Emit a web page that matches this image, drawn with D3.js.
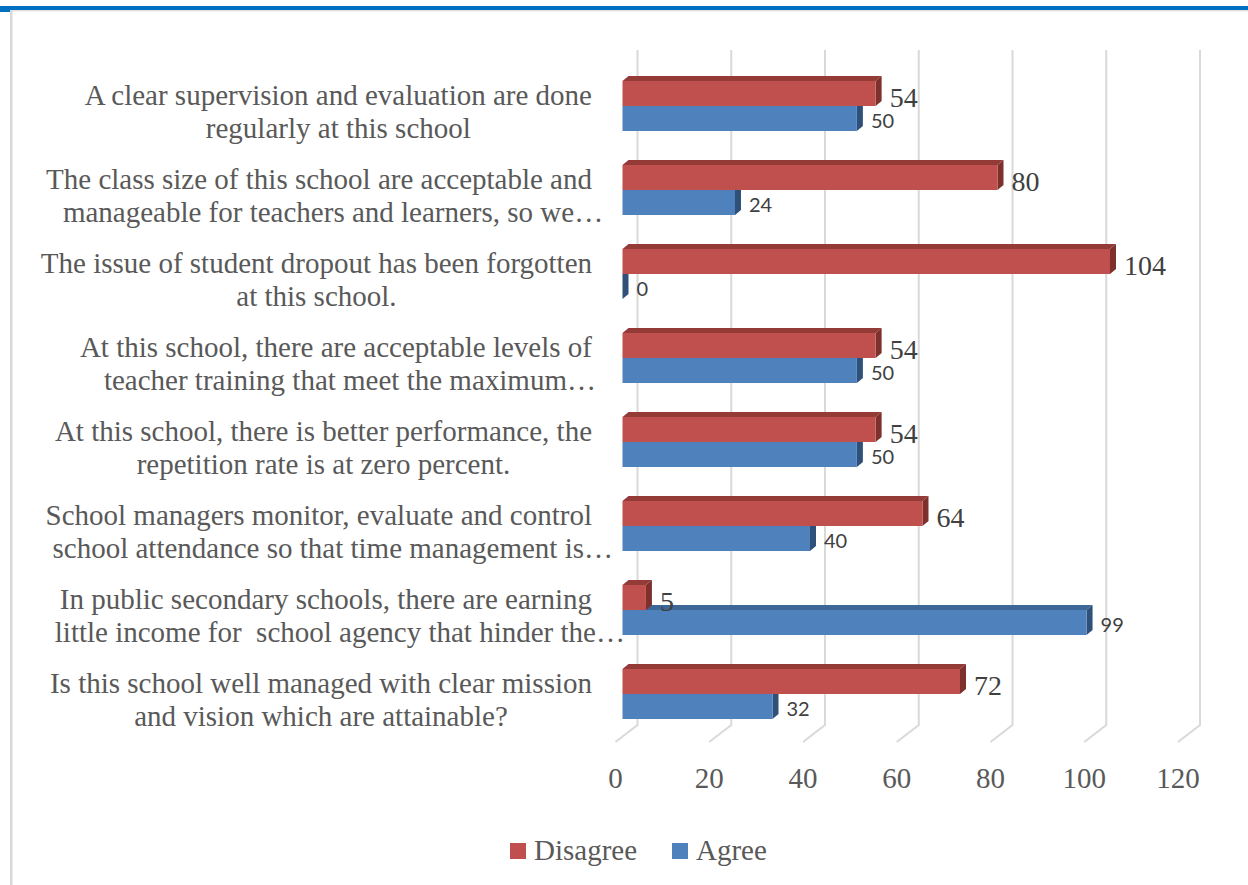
<!DOCTYPE html>
<html>
<head>
<meta charset="utf-8">
<script src="https://cdn.jsdelivr.net/npm/d3@7"></script>
<style>
  html, body { margin: 0; padding: 0; background: #ffffff; }
  svg { display: block; }
  text { white-space: pre; }
</style>
</head>
<body>
<svg id="chart" width="1248" height="885"></svg>
<script>
// ---------- data ----------
const categories = [
  "A clear supervision and evaluation are done\nregularly at this school",
  "The class size of this school are acceptable and\nmanageable for teachers and learners, so we…",
  "The issue of student dropout has been forgotten\nat this school.",
  "At this school, there are acceptable levels of\nteacher training that meet the maximum…",
  "At this school, there is better performance, the\nrepetition rate is at zero percent.",
  "School managers monitor, evaluate and control\nschool attendance so that time management is…",
  "In public secondary schools, there are earning\nlittle income for  school agency that hinder the…",
  "Is this school well managed with clear mission\nand vision which are attainable?"
];
const disagree = [54, 80, 104, 54, 54, 64, 5, 72];
const agree    = [50, 24, 0, 50, 50, 40, 99, 32];
const seriesNames = ["Disagree", "Agree"];
const xTicks = [0, 20, 40, 60, 80, 100, 120];

// ---------- styles ----------
const serif = "'Liberation Serif', 'Times New Roman', serif";
const sans = "Lato, 'Liberation Sans', sans-serif";
const textCol = "#595959";
const cols = {
  Disagree: { front: "#C0504D", top: "#943B38", side: "#7E302D" },
  Agree:    { front: "#4F81BD", top: "#3C6797", side: "#2E5079" }
};

const svg = d3.select("#chart");

// frame decorations
svg.append("rect").attr("x", 0).attr("y", 6).attr("width", 1248).attr("height", 4).attr("fill", "#0070C0");
svg.append("rect").attr("x", 0).attr("y", 6).attr("width", 10).attr("height", 6).attr("fill", "#0070C0");
svg.append("rect").attr("x", 10).attr("y", 10).attr("width", 1238).attr("height", 1.5).attr("fill", "#e3e3e3");
svg.append("rect").attr("x", 10).attr("y", 10).attr("width", 2.5).attr("height", 875).attr("fill", "#d9d9d9");

// ---------- scales ----------
const x = d3.scaleLinear().domain([0, 120]).range([615.5, 1178]);
const y = d3.scaleBand().domain(d3.range(categories.length)).range([64, 736])
  .paddingInner(34 / 84).paddingOuter(17 / 84);

const backDx = 22, backDy = -17;
const barFrontDx = 7;
const depthDx = 6, depthDy = -5;
const wallTop = 50, floorBack = 725;

// back-wall gridlines and floor diagonals
const grid = svg.append("g");
xTicks.forEach(t => {
  const xb = x(t) + backDx;
  grid.append("path")
    .attr("d", `M${xb},${wallTop} L${xb},${floorBack} L${xb - backDx},${floorBack - backDy}`)
    .attr("fill", "none").attr("stroke", "#d9d9d9").attr("stroke-width", 2);
});

// tick labels
svg.append("g").selectAll("text").data(xTicks).join("text")
  .attr("x", d => x(d)).attr("y", 788)
  .attr("text-anchor", "middle")
  .attr("font-family", serif).attr("font-size", 29).attr("fill", textCol)
  .text(d => d);

// ---------- bars ----------
const bh = y.bandwidth() / 2;
function drawBar(g, v, y0, c) {
  const x0 = x(0) + barFrontDx;
  const x1 = x(v) + barFrontDx;
  g.append("path")
    .attr("d", `M${x0},${y0} L${x0 + depthDx},${y0 + depthDy} L${x1 + depthDx},${y0 + depthDy} L${x1},${y0} Z`)
    .attr("fill", c.top);
  g.append("path")
    .attr("d", `M${x1},${y0} L${x1 + depthDx},${y0 + depthDy} L${x1 + depthDx},${y0 + bh + depthDy} L${x1},${y0 + bh} Z`)
    .attr("fill", c.side);
  if (x1 > x0) {
    g.append("rect").attr("x", x0).attr("y", y0).attr("width", x1 - x0).attr("height", bh)
      .attr("fill", c.front);
  }
}

const bars = svg.append("g");
categories.forEach((cat, i) => {
  const y0 = y(i);
  drawBar(bars, agree[i], y0 + bh, cols.Agree);
  drawBar(bars, disagree[i], y0, cols.Disagree);
});

// data labels
const labels = svg.append("g");
categories.forEach((cat, i) => {
  const y0 = y(i);
  labels.append("text")
    .attr("x", x(disagree[i]) + barFrontDx + depthDx + 8)
    .attr("y", y0 + bh + 1)
    .attr("font-family", serif).attr("font-size", 28).attr("fill", "#404040")
    .text(disagree[i]);
  labels.append("text")
    .attr("x", x(agree[i]) + barFrontDx + depthDx + 8)
    .attr("y", y0 + 2 * bh - 3)
    .attr("font-family", sans).attr("font-size", 20).attr("fill", "#404040")
    .text(agree[i]);
});

// category labels
const catG = svg.append("g");
const rightEdge = 592;
categories.forEach((cat, i) => {
  const lines = cat.split("\n");
  const cy = y(i) + y.bandwidth() / 2;
  const texts = lines.map((ln, j) => catG.append("text")
    .attr("y", cy - 1 + j * 33)
    .attr("text-anchor", "middle")
    .attr("font-family", serif).attr("font-size", 29).attr("fill", textCol)
    .text(ln));
  const w0 = texts[0].node().getComputedTextLength();
  const cx = rightEdge - w0 / 2;
  texts.forEach((t, j) => {
    const ell = lines[j].endsWith("…");
    t.attr("x", cx + (ell ? 14 : 0));
  });
});

// legend
const leg = svg.append("g");
const legItems = [
  { name: seriesNames[0], color: cols.Disagree.front, sx: 510 },
  { name: seriesNames[1], color: cols.Agree.front, sx: 672 }
];
legItems.forEach(it => {
  leg.append("rect").attr("x", it.sx).attr("y", 843).attr("width", 16).attr("height", 16).attr("fill", it.color);
  leg.append("text").attr("x", it.sx + 24).attr("y", 860)
    .attr("font-family", serif).attr("font-size", 29).attr("fill", textCol)
    .text(it.name);
});
</script>
</body>
</html>
